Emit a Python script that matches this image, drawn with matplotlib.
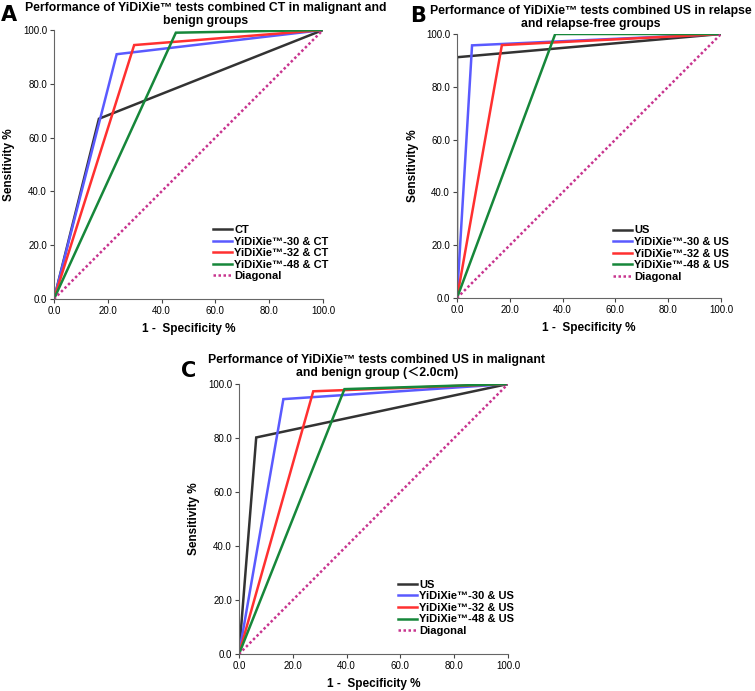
import matplotlib.pyplot as plt

plt.rcParams['font.family'] = ['Liberation Sans', 'Noto Sans CJK SC', 'DejaVu Sans']

# ROC points (1 - specificity %, sensitivity %)
a_names = ["CT", "YiDiXie™-30 & CT", "YiDiXie™-32 & CT", "YiDiXie™-48 & CT"]
a_fpr = [[0, 16.7, 100], [0, 23.3, 100], [0, 29.8, 100], [0, 45.3, 100]]
a_tpr = [[0, 67.0, 100], [0, 91.0, 100], [0, 94.4, 100], [0, 99.0, 100]]

b_names = ["US", "YiDiXie™-30 & US", "YiDiXie™-32 & US", "YiDiXie™-48 & US"]
b_fpr = [[0, 0, 100], [0, 5.7, 100], [0, 17.0, 100], [0, 37.2, 100]]
b_tpr = [[0, 91.2, 100], [0, 95.7, 100], [0, 95.8, 100], [0, 100, 100]]

c_names = ["US", "YiDiXie™-30 & US", "YiDiXie™-32 & US", "YiDiXie™-48 & US"]
c_fpr = [[0, 6.4, 100], [0, 16.5, 100], [0, 27.6, 100], [0, 39.2, 100]]
c_tpr = [[0, 80.2, 100], [0, 94.4, 100], [0, 97.3, 100], [0, 98.1, 100]]

ticks = [0, 20, 40, 60, 80, 100]
colors = ["#333333", "#5a5aff", "#ff3030", "#16873a"]
diag_color = "#c8358f"

W, H = 755, 691
fig = plt.figure(figsize=(W / 100, H / 100), dpi=100)


def px_axes(left, top, right, bottom):
    return fig.add_axes([left / W, (H - bottom) / H, (right - left) / W, (bottom - top) / H])


def panel(ax, names, fpr, tpr, title, title_xy, letter, letter_xy):
    for i in range(len(names)):
        ax.plot(fpr[i], tpr[i], color=colors[i], lw=1.8, label=names[i], solid_joinstyle="miter")
    ax.plot([0, 100], [0, 100], color=diag_color, lw=1.8, linestyle=(0, (1, 1)), label="Diagonal")
    ax.set_xlim(0, 100)
    ax.set_ylim(0, 100)
    ax.set_xticks(ticks)
    ax.set_yticks(ticks)
    ax.set_xticklabels(["%.1f" % t for t in ticks])
    ax.set_yticklabels(["%.1f" % t for t in ticks])
    ax.tick_params(labelsize=7, length=3, width=0.8, color="#444444", pad=2)
    for s in ["top", "right"]:
        ax.spines[s].set_visible(False)
    for s in ["left", "bottom"]:
        ax.spines[s].set_color("#666666")
        ax.spines[s].set_linewidth(0.8)
    ax.set_xlabel("1 -  Specificity %", fontsize=8.5, fontweight="bold", labelpad=5)
    ax.set_ylabel("Sensitivity %", fontsize=8.5, fontweight="bold")
    ax.yaxis.set_label_coords(-0.145, 0.5)
    fig.text(title_xy[0] / W, 1 - title_xy[1] / H, title, fontsize=8.8, fontweight="bold",
             ha="center", va="top", multialignment="center", linespacing=1.1)
    fig.text(letter_xy[0] / W, 1 - letter_xy[1] / H, letter, fontsize=15, fontweight="bold",
             family=["DejaVu Sans"], va="center", ha="center")
    leg = ax.legend(loc="upper left", bbox_to_anchor=(0.59, 0.275), frameon=False,
                    prop={"size": 8, "weight": "bold"}, handlelength=1.75,
                    handletextpad=0.2, labelspacing=0.14, borderpad=0, borderaxespad=0)
    for line in leg.get_lines():
        line.set_linewidth(1.8)


axA = px_axes(54, 30, 323, 299)
panel(axA, a_names, a_fpr, a_tpr,
      "Performance of YiDiXie™ tests combined CT in malignant and\nbenign groups", (206, 2),
      "A", (9, 15))
axB = px_axes(457, 34, 721, 298)
panel(axB, b_names, b_fpr, b_tpr,
      "Performance of YiDiXie™ tests combined US in relapse\nand relapse-free groups", (591, 5),
      "B", (418, 16))
axC = px_axes(239, 384, 508, 654)
panel(axC, c_names, c_fpr, c_tpr,
      "Performance of YiDiXie™ tests combined US in malignant\nand benign group (＜2.0cm)", (377, 354),
      "C", (189, 371))

fig.savefig("out.png", dpi=100)
